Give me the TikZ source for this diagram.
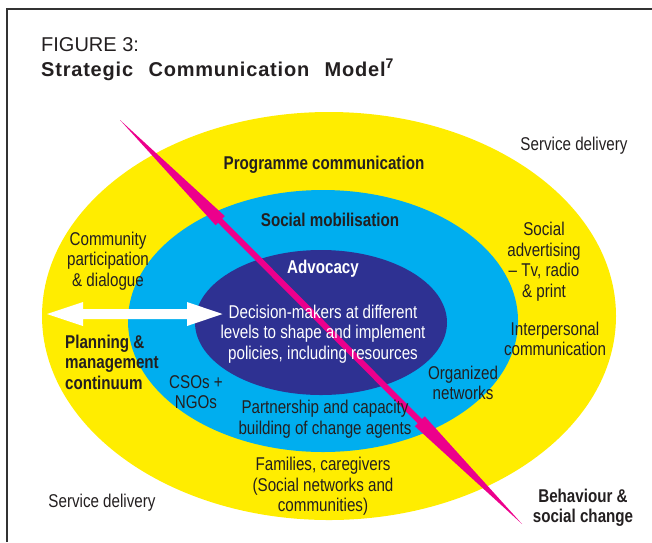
\documentclass[tikz,border=0pt]{standalone}
\usepackage{fontspec}
\setmainfont{Liberation Sans}
\newfontfamily\narrowsans{Liberation Sans}[FakeStretch=0.82]
\usepackage{tikz}
\usetikzlibrary{positioning}

\definecolor{ringyellow}{HTML}{FFED00}
\definecolor{ringcyan}{HTML}{00AEEF}
\definecolor{ringnavy}{HTML}{2E3192}
\definecolor{pinkarrow}{HTML}{EC008C}
\definecolor{inktext}{HTML}{231F20}

\begin{document}
\begin{tikzpicture}[x=1pt, y=-1pt,
    lbl/.style={align=center, inner sep=0pt, text=inktext,
        font=\narrowsans\fontsize{18.5}{20.5}\selectfont},
    blbl/.style={lbl, font=\narrowsans\bfseries\fontsize{18.5}{20.5}\selectfont}]
    \useasboundingbox (0,0) rectangle (652,542);

    % Frame
    \draw[line width=1.3pt, black!80] (7,542) -- (7,9) -- (652,9);

    % Title
    \node[anchor=base west, inner sep=0pt, text=inktext,
        font=\fontsize{20}{24}\selectfont] (fig) at (41,51) {FIGURE 3:};
    \node[anchor=base west, inner sep=0pt, text=inktext,
        font=\bfseries\fontsize{20}{23}\selectfont\addfontfeature{LetterSpace=4}]
        (title) at (41,76.5) {Strategic\hspace{9pt} Communication\hspace{9pt} Model\textsuperscript{7}};

    % Rings
    \fill[ringyellow] (329,316) ellipse [x radius=287, y radius=204];
    \fill[ringcyan] (323,321) ellipse [x radius=195, y radius=131];
    \fill[ringnavy] (321,322.5) ellipse [x radius=126, y radius=72.5];

    % Behaviour change arrow
    \begin{scope}[shift={(120,120)}, rotate=-45.14]
        \fill[pinkarrow] (0,0) -- (142,-6.5) -- (142,-3) -- (425,-3) -- (425,-7) -- (570,0)
            -- (425,7) -- (425,3) -- (142,3) -- (142,6.5) -- cycle;
    \end{scope}

    % Planning continuum arrow
    \fill[white] (47,314) -- (83,302) -- (83,309) -- (187,309) -- (187,302) -- (222.5,314)
        -- (187,326) -- (187,319) -- (83,319) -- (83,326) -- cycle;

    % Labels
    \node[lbl] (svctop) at (574,146) {Service delivery};
    \node[blbl] (prog) at (324,165) {Programme communication};
    \node[blbl] (socmob) at (330,220) {Social mobilisation};
    \node[blbl, text=white] (advoc) at (323,269) {Advocacy};
    \node[lbl, text=white] (decis) at (323,334)
        {Decision-makers at different\\levels to shape and implement\\policies, including resources};
    \node[lbl] (commun) at (108,261) {Community\\participation\\\& dialogue};
    \node[lbl] (socadv) at (544,261.5) {Social\\advertising\\– Tv, radio\\\& print};
    \node[lbl] (interp) at (555,339) {Interpersonal\\communication};
    \node[blbl, align=left, anchor=west] (plan) at (65,362) {Planning \&\\management\\continuum};
    \node[lbl] (csos) at (196,392) {CSOs +\\NGOs};
    \node[lbl] (orgnet) at (463,383) {Organized\\networks};
    \node[lbl] (partner) at (325,419) {Partnership and capacity\\building of change agents};
    \node[lbl] (family) at (323,486.5) {Families, caregivers\\(Social networks and\\communities)};
    \node[lbl] (svcbot) at (102,503) {Service delivery};
    \node[blbl] (behav) at (583,507.5) {Behaviour \&\\social change};
\end{tikzpicture}
\end{document}
